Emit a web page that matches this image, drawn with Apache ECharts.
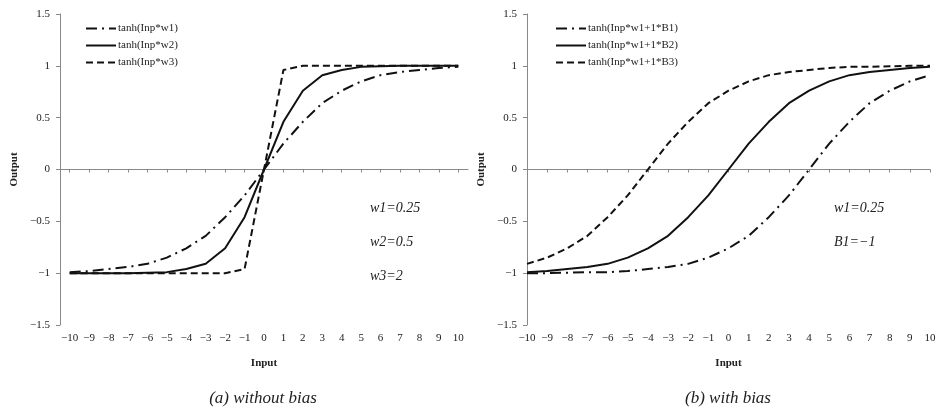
<!DOCTYPE html>
<html><head><meta charset="utf-8">
<script src="https://cdn.jsdelivr.net/npm/echarts@6/dist/echarts.min.js"></script>
<style>html,body{margin:0;padding:0;background:#fff}#c{width:939px;height:414px}</style>
</head><body><div id="c"></div>
<script>
var inputs = [-10,-9,-8,-7,-6,-5,-4,-3,-2,-1,0,1,2,3,4,5,6,7,8,9,10];
var yTicks = [-1.5,-1,-0.5,0,0.5,1,1.5];
var namesA = ['tanh(Inp*w1)','tanh(Inp*w2)','tanh(Inp*w3)'];
var namesB = ['tanh(Inp*w1+1*B1)','tanh(Inp*w1+1*B2)','tanh(Inp*w1+1*B3)'];
var a1 = [-0.99,-0.98,-0.96,-0.94,-0.91,-0.85,-0.76,-0.64,-0.46,-0.25,0,0.25,0.46,0.64,0.76,0.85,0.91,0.94,0.96,0.98,0.99];
var a2 = [-1.00,-1.00,-1.00,-1.00,-0.995,-0.99,-0.96,-0.91,-0.76,-0.46,0,0.46,0.76,0.91,0.96,0.99,0.995,1.00,1.00,1.00,1.00];
var a3 = [-1,-1,-1,-1,-1,-1,-1,-1,-1.00,-0.96,0,0.96,1.00,1,1,1,1,1,1,1,1];
var b1 = [-1.00,-1.00,-0.995,-0.99,-0.99,-0.98,-0.96,-0.94,-0.91,-0.85,-0.76,-0.64,-0.46,-0.25,0,0.25,0.46,0.64,0.76,0.85,0.91];
var b2 = [-0.99,-0.98,-0.96,-0.94,-0.91,-0.85,-0.76,-0.64,-0.46,-0.25,0,0.25,0.46,0.64,0.76,0.85,0.91,0.94,0.96,0.98,0.99];
var b3 = [-0.91,-0.85,-0.76,-0.64,-0.46,-0.25,0,0.25,0.46,0.64,0.76,0.85,0.91,0.94,0.96,0.98,0.99,0.99,0.995,1.00,1.00];

var FONT = 'Liberation Serif';
var TXT = '#222';
var AX = '#888';
function minus(v){ return String(v).replace('-', '\u2212'); }
function pairs(vals){ return inputs.map(function(x,i){ return [x, vals[i]]; }); }
var styles = [
  {type:[11,5,2,5], width:2},
  {type:'solid', width:2},
  {type:[7,4], width:2}
];

function makeAxes(gi, pad){
  var range = pad ? {min:-10.5, max:10.5} : {min:-10, max:10, interval:1};
  var lbl = {fontFamily:FONT, fontSize:11, color:TXT, margin:8, formatter:minus};
  var tick = {show:true, inside:true, length:3, lineStyle:{color:AX}};
  if (pad) { lbl.customValues = inputs; tick.customValues = inputs; }
  var xs = [Object.assign({
    type:'value', gridIndex:gi, position:'bottom',
    axisLine:{show:false, onZero:false}, axisTick:{show:false}, splitLine:{show:false},
    axisLabel:lbl,
    name:'Input', nameLocation:'middle', nameGap:33,
    nameTextStyle:{fontFamily:FONT, fontSize:11, fontWeight:'bold', color:TXT}
  }, range), Object.assign({
    type:'value', gridIndex:gi,
    axisLine:{show:true, onZero:true, lineStyle:{color:AX, width:1}},
    axisTick:tick,
    axisLabel:{show:false}, splitLine:{show:false}
  }, range)];
  var y = {
    type:'value', gridIndex:gi, min:-1.5, max:1.5, interval:0.5,
    axisLine:{show:true, onZero:false, lineStyle:{color:AX, width:1}},
    axisTick:{show:true, length:4, lineStyle:{color:AX}},
    splitLine:{show:false},
    axisLabel:{fontFamily:FONT, fontSize:11, color:TXT, margin:10, formatter:minus},
    name:'Output', nameLocation:'middle', nameGap:40,
    nameTextStyle:{fontFamily:FONT, fontSize:11, fontWeight:'bold', color:TXT}
  };
  return {xs:xs, y:y};
}
var A = makeAxes(0, true), B = makeAxes(1, false);

function mkSeries(names, arrs, xi, yi){
  return names.map(function(n,i){
    return {name:n, type:'line', xAxisIndex:xi, yAxisIndex:yi, data:pairs(arrs[i]),
      symbol:'none', showSymbol:false, smooth:false, animation:false,
      lineStyle:{color:'#111', width:styles[i].width, type:styles[i].type},
      itemStyle:{color:'#111'}};
  });
}

var legendCommon = {orient:'vertical', itemWidth:30, itemHeight:10, itemGap:6,
  itemStyle:{opacity:0},
  textStyle:{fontFamily:FONT, fontSize:11, color:TXT, padding:[0,0,0,-3]}};

var option = {
  backgroundColor:'#fff',
  animation:false,
  grid:[
    {left:60, right:471, top:14, bottom:89},
    {left:527, right:9, top:14, bottom:89}
  ],
  xAxis: A.xs.concat(B.xs),
  yAxis: [A.y, B.y],
  legend:[
    Object.assign({data:namesA, left:80, top:18}, legendCommon),
    Object.assign({data:namesB, left:550, top:18}, legendCommon)
  ],
  series: mkSeries(namesA,[a1,a2,a3],0,0).concat(mkSeries(namesB,[b1,b2,b3],2,1)),
  graphic:[
    {type:'text', x:370, y:208, style:{text:'w1=0.25', font:'italic 14px "Liberation Serif"', fill:TXT, textVerticalAlign:'middle'}},
    {type:'text', x:370, y:242, style:{text:'w2=0.5', font:'italic 14px "Liberation Serif"', fill:TXT, textVerticalAlign:'middle'}},
    {type:'text', x:370, y:276, style:{text:'w3=2', font:'italic 14px "Liberation Serif"', fill:TXT, textVerticalAlign:'middle'}},
    {type:'text', x:834, y:208, style:{text:'w1=0.25', font:'italic 14px "Liberation Serif"', fill:TXT, textVerticalAlign:'middle'}},
    {type:'text', x:834, y:242, style:{text:'B1=\u22121', font:'italic 14px "Liberation Serif"', fill:TXT, textVerticalAlign:'middle'}},
    {type:'text', x:263, y:399, style:{text:'(a) without bias', font:'italic 17px "Liberation Serif"', fill:TXT, textAlign:'center', textVerticalAlign:'middle'}},
    {type:'text', x:728, y:399, style:{text:'(b) with bias', font:'italic 17px "Liberation Serif"', fill:TXT, textAlign:'center', textVerticalAlign:'middle'}}
  ]
};
var chart = echarts.init(document.getElementById('c'), null, {renderer:'canvas'});
chart.setOption(option);
</script>
</body></html>
